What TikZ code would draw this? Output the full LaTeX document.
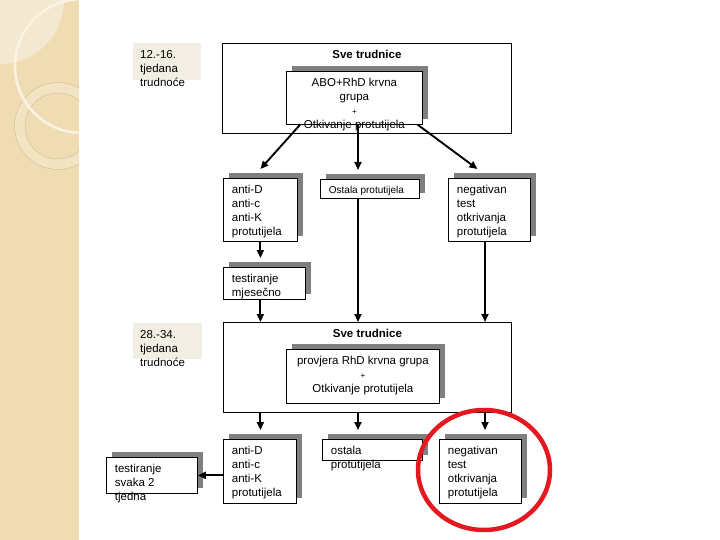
\documentclass[tikz,border=0pt]{standalone}
\usepackage{fontspec}
\setmainfont{Liberation Sans}
\usetikzlibrary{arrows.meta,calc,shadows}
\definecolor{stripbg}{HTML}{EFDCB2}
\definecolor{stripglow}{HTML}{F4E9D0}
\definecolor{ringband}{HTML}{F2E3C2}
\definecolor{ringtone}{HTML}{D6C096}
\definecolor{arcwhite}{HTML}{FAF3E3}
\definecolor{labelbg}{HTML}{F2EEE4}
\definecolor{shadowgray}{HTML}{808080}
\definecolor{markred}{HTML}{E3191F}
\newcommand{\boxlines}[3]{\parbox[t][#2][t]{#1}{\strut#3}}
\tikzset{
  >={Triangle[length=8pt,width=7pt]},
  % kutije
  bx/.style={draw=black,fill=white,line width=0.8pt,anchor=north west,
             inner xsep=8.5pt,inner ysep=5.5pt,font=\fontsize{11.5}{14}\selectfont},
  shbx/.style={bx,drop shadow={shadow xshift=6pt,shadow yshift=5.5pt,
               fill=shadowgray,opacity=1}},
  tjedni/.style={fill=labelbg,anchor=north west,inner xsep=7pt,inner ysep=5.5pt,
             font=\fontsize{11.5}{14}\selectfont},
  % strelice
  arr/.style={->,line width=1.9pt},
  oznaka/.style={draw=markred,line width=4.5pt},
}
\begin{document}
\begin{tikzpicture}[x=1pt,y=-1pt]
  \useasboundingbox (0,0) rectangle (720,540);
  % pozadina lijevo
  \fill[stripbg] (0,0) rectangle (79,540);
  \begin{scope}
    \clip (0,0) rectangle (79,540);
    \fill[stripglow] (0,0) circle[radius=64pt];
    \fill[ringband,even odd rule] (58,126) circle[radius=43.5pt] circle[radius=33pt];
    \draw[ringtone,line width=0.5pt] (58,126) circle[radius=43.5pt] circle[radius=33pt];
    \draw[arcwhite,line width=2.6pt] (82,66) circle[radius=67pt];
  \end{scope}
  % 12.-16. tjedan
  \node[tjedni] (t12) at (133,43) {\boxlines{54pt}{26pt}{12.-16.\\tjedana\\trudnoće}};
  \node[bx] (sve1) at (222,43) {\boxlines{272pt}{79pt}{\centering\bfseries Sve trudnice}};
  \node[shbx] (abo) at (286,71) {\boxlines{119pt}{42pt}{\centering ABO+RhD krvna\\grupa\\{\footnotesize +}\\Otkivanje protutijela}};
  \node[shbx] (antiD1) at (223,178) {\boxlines{57pt}{52pt}{anti-D\\anti-c\\anti-K\\protutijela}};
  \node[shbx,font=\fontsize{10}{12}\selectfont] (ostala1) at (320,179) {\boxlines{82pt}{7pt}{Ostala protutijela}};
  \node[shbx] (neg1) at (448,178) {\boxlines{65pt}{52pt}{negativan\\test\\otkrivanja\\protutijela}};
  \node[shbx] (mjes) at (223,267) {\boxlines{65pt}{21pt}{testiranje\\mjesečno}};
  % 28.-34. tjedan
  \node[tjedni] (t28) at (133,323) {\boxlines{55pt}{25pt}{28.-34.\\tjedana\\trudnoće}};
  \node[bx] (sve2) at (223,322) {\boxlines{271pt}{79pt}{\centering\bfseries Sve trudnice}};
  \node[shbx] (provj) at (286,349) {\boxlines{136pt}{43pt}{\centering provjera RhD krvna grupa\\{\footnotesize +}\\Otkivanje protutijela}};
  \node[shbx] (antiD2) at (223,439) {\boxlines{56pt}{53pt}{anti-D\\anti-c\\anti-K\\protutijela}};
  \node[shbx] (ostala2) at (322,439) {\boxlines{83pt}{7pt}{ostala\\protutijela}};
  \node[shbx] (neg2) at (439,439) {\boxlines{65pt}{53pt}{negativan\\test\\otkrivanja\\protutijela}};
  \node[shbx] (svaka) at (106,457) {\boxlines{74pt}{25pt}{testiranje\\svaka 2\\tjedna}};
  \draw[oznaka] (484,470) ellipse [x radius=66pt, y radius=60pt];
  % veze
  \coordinate (midline) at (358,0);
  \coordinate (rightline) at (485,0);
  \draw[arr] ([xshift=14pt]abo.south west) -- ($(antiD1.north)+(0,-9)$);
  \draw[arr] (abo.south -| midline) -- ($(ostala1.north -| midline)+(0,-9)$);
  \draw[arr] ([xshift=-5pt]abo.south east) -- ($(neg1.north)+(-12,-9)$);
  \draw[arr] (antiD1.south) -- ($(antiD1.south |- mjes.north)+(0,-9)$);
  \draw[arr] (antiD1.south |- mjes.south) -- (antiD1.south |- sve2.north);
  \draw[arr] (ostala1.south -| midline) -- (sve2.north -| midline);
  \draw[arr] (neg1.south -| rightline) -- (sve2.north -| rightline);
  \draw[arr] (sve2.south -| antiD1.south) -- ($(antiD2.north -| antiD1.south)+(0,-9)$);
  \draw[arr] (sve2.south -| midline) -- ($(ostala2.north -| midline)+(0,-9)$);
  \draw[arr] (sve2.south -| rightline) -- ($(neg2.north -| rightline)+(0,-9)$);
  \draw[arr] (svaka.east -| antiD2.west) -- (svaka.east);
\end{tikzpicture}
\end{document}
